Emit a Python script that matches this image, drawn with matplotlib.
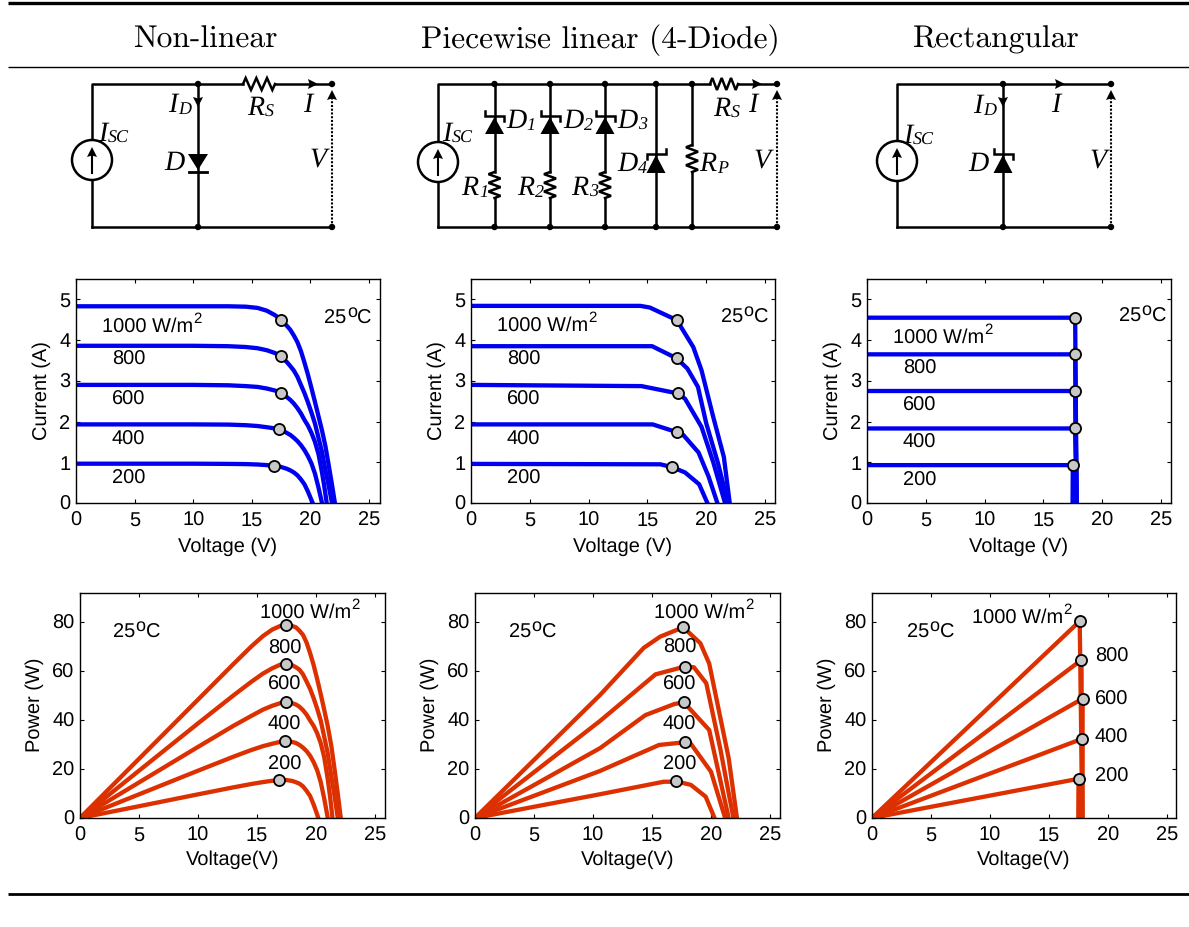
import matplotlib
matplotlib.use('Agg')
import matplotlib.pyplot as plt
from matplotlib.patches import Circle, Polygon

plt.rcParams['font.family'] = ['Liberation Sans', 'DejaVu Sans']
plt.rcParams['text.hinting'] = 'no_hinting'
plt.rcParams['text.hinting_factor'] = 1

W, H = 1189, 927
BLUE = '#0000F0'
RED = '#DC3000'

titles = ['Non-linear', 'Piecewise linear (4-Diode)', 'Rectangular']
xticks = [0, 5, 10, 15, 20, 25]
yticks_i = [0, 1, 2, 3, 4, 5]
yticks_p = [0, 20, 40, 60, 80]

# ---------- Non-linear I-V ---------
knee_a = [0, 5, 10, 13, 14.5, 15.5, 16.3, 17, 17.5, 18, 18.3, 18.6, 18.9, 19.2, 19.5, 19.8, 20.1, 20.4, 20.7, 21]
nl_iv_v = [
    knee_a + [21.3, 21.6, 21.85, 22.1],
    knee_a + [21.3, 21.6, 21.85],
    knee_a + [21.2, 21.4],
    knee_a,
    [0, 5, 10, 13, 14.5, 15.5, 16.3, 16.9, 17.5, 18, 18.3, 18.6, 18.9, 19.2, 19.5, 19.8, 20.0, 20.2],
]
nl_iv_i = [
    [4.83, 4.83, 4.83, 4.83, 4.82, 4.79, 4.72, 4.61, 4.5, 4.35, 4.25, 4.11, 3.95, 3.73, 3.45, 3.15, 2.82, 2.48, 2.13, 1.78, 1.38, 0.88, 0.45, 0],
    [3.86, 3.86, 3.86, 3.85, 3.83, 3.8, 3.75, 3.68, 3.6, 3.46, 3.36, 3.25, 3.1, 2.9, 2.7, 2.47, 2.22, 1.95, 1.6, 1.25, 0.8, 0.38, 0],
    [2.9, 2.9, 2.9, 2.89, 2.87, 2.85, 2.81, 2.76, 2.7, 2.6, 2.53, 2.44, 2.33, 2.2, 2.04, 1.9, 1.72, 1.5, 1.2, 0.75, 0.4, 0],
    [1.93, 1.93, 1.93, 1.925, 1.91, 1.89, 1.86, 1.83, 1.8, 1.72, 1.67, 1.6, 1.52, 1.42, 1.3, 1.15, 0.97, 0.72, 0.38, 0],
    [0.965, 0.965, 0.965, 0.96, 0.955, 0.945, 0.93, 0.91, 0.885, 0.84, 0.8, 0.75, 0.68, 0.58, 0.46, 0.28, 0.14, 0],
]
nl_mpp_v = [17.5, 17.5, 17.5, 17.35, 16.9]
nl_mpp_i = [4.5, 3.6, 2.7, 1.81, 0.91]
# ---------- Non-linear P-V ---------
nl_pv_p = [
    [0, 24.15, 48.3, 62.8, 69.9, 74.2, 76.9, 78.4, 78.75, 78.3, 77.8, 76.4, 74.7, 71.6, 67.3, 62.4, 56.7, 50.6, 44.1, 37.4, 29.4, 19, 9.8, 0],
    [0, 19.3, 38.6, 50.0, 55.5, 58.9, 61.1, 62.6, 63, 62.3, 61.5, 60.5, 58.6, 55.7, 52.7, 48.9, 44.6, 39.8, 33.1, 26.3, 17, 8.2, 0],
    [0, 14.5, 29, 37.6, 41.6, 44.2, 45.8, 46.9, 47.25, 46.8, 46.3, 45.4, 44, 42.2, 39.8, 37.6, 34.6, 30.6, 24.8, 15.8, 8.5, 0],
    [0, 9.65, 19.3, 25, 27.7, 29.3, 30.3, 31.1, 31.3, 31, 30.6, 29.8, 28.7, 27.3, 25.4, 22.8, 19.5, 14.7, 7.9, 0],
    [0, 4.8, 9.65, 12.5, 13.85, 14.65, 15.2, 15.4, 15.5, 15.1, 14.6, 14, 12.9, 11.1, 9, 5.5, 2.8, 0],
]
nl_mpp_p = [78.6, 63, 47.3, 31.4, 15.4]

# ---------- Piecewise I-V ---------
pw_iv_v = [
    [0, 14.4, 15.2, 17.5, 18.9, 19.6, 20.6, 21.5, 22.0],
    [0, 15.4, 17.5, 18.4, 19.3, 20.0, 21.0, 21.85],
    [0, 14.5, 17.6, 18.2, 19.6, 20.6, 21.6],
    [0, 15.45, 17.5, 18.05, 19.35, 20.2, 20.95],
    [0, 16.1, 17.1, 18.2, 19.4, 20.1],
]
pw_iv_i = [
    [4.84, 4.84, 4.8, 4.49, 3.83, 3.26, 2.11, 1.13, 0],
    [3.85, 3.85, 3.55, 3.3, 2.85, 1.96, 0.98, 0],
    [2.9, 2.87, 2.69, 2.56, 1.87, 1.0, 0],
    [1.93, 1.93, 1.74, 1.67, 1.24, 0.65, 0],
    [0.96, 0.95, 0.88, 0.75, 0.46, 0],
]
pw_mpp_v = [17.5, 17.5, 17.6, 17.5, 17.1]
pw_mpp_i = [4.49, 3.55, 2.69, 1.74, 0.88]
# ---------- Piecewise P-V ---------
pw_pv_v = [
    [0, 10.6, 14.3, 15.7, 17.65, 19.1, 19.85, 21.5, 22.2],
    [0, 10.6, 15.3, 17.8, 18.55, 19.6, 20.8, 21.9],
    [0, 10.6, 14.45, 16.9, 17.7, 19.85, 21.5],
    [0, 10.6, 15.6, 17.8, 18.2, 20.0, 21.2],
    [0, 10.6, 16.0, 17.2, 18.3, 19.55, 20.3],
]
pw_pv_p = [
    [0, 50.2, 69.4, 74, 77.8, 71.3, 63, 24.4, 0],
    [0, 39.6, 58.6, 61.8, 61.5, 55, 28, 0],
    [0, 28.5, 42, 46.5, 47.2, 35.9, 0],
    [0, 19.2, 29.8, 30.9, 30.9, 18.9, 0],
    [0, 9.7, 14.8, 14.8, 13.5, 8.7, 0],
]
pw_mpp_pv = [17.65, 17.8, 17.7, 17.8, 17.0]
pw_mpp_p = [78, 61.8, 47.2, 30.9, 14.9]

# ---------- Rectangular ---------
re_v_start = [0, 0, 0, 0, 0]
re_iv_i = [4.55, 3.65, 2.75, 1.83, 0.93]
re_mpp_v = [17.7, 17.7, 17.7, 17.7, 17.5]
re_end_v = [17.82, 17.82, 17.82, 17.82, 17.48]
re_mpp_vp = [17.6, 17.75, 17.85, 17.8, 17.5]
re_mpp_p = [80.3, 64.5, 48.7, 32.3, 16]

fig = plt.figure(figsize=(W / 100, H / 100), dpi=100)
FS = 14.5


def make_axes(l, t, r, b, xmax, ymax, yticks, xlabel, ylabel, xpad, lpad):
    ax = fig.add_axes([l / W, 1 - b / H, (r - l) / W, (b - t) / H])
    ax.set_xlim(0, xmax)
    ax.set_ylim(0, ymax)
    ax.set_xticks(xticks)
    ax.set_yticks(yticks)
    ax.tick_params(direction='in', length=3, width=0.8, top=True, right=True,
                   labelsize=FS, pad=4)
    ax.tick_params(axis='x', pad=xpad)
    for s in ax.spines.values():
        s.set_linewidth(1.0)
    ax.set_xlabel(xlabel, fontsize=FS, labelpad=lpad)
    ax.set_ylabel(ylabel, fontsize=FS, labelpad=6)
    return ax


def mpp(ax, xs, ys):
    ax.plot(xs, ys, ls='none', marker='o', ms=8, mfc='#C8C8C8', mec='black',
            mew=1.3, zorder=5, clip_on=False)


LW = 3.1
# row 1
a1 = make_axes(76, 279, 380, 503, 25.95, 5.5, yticks_i, 'Voltage (V)', 'Current (A)', 6, 5)
for v, i in zip(nl_iv_v, nl_iv_i):
    a1.plot(v, i, color=BLUE, lw=LW, solid_joinstyle='round')
mpp(a1, nl_mpp_v, nl_mpp_i)

a2 = make_axes(471, 279, 775, 503, 25.85, 5.5, yticks_i, 'Voltage (V)', 'Current (A)', 6, 5)
for v, i in zip(pw_iv_v, pw_iv_i):
    a2.plot(v, i, color=BLUE, lw=LW, solid_joinstyle='round')
mpp(a2, pw_mpp_v, pw_mpp_i)

a3 = make_axes(867, 279, 1171, 503, 25.85, 5.5, yticks_i, 'Voltage (V)', 'Current (A)', 6, 5)
for s, i, vm, ve in zip(re_v_start, re_iv_i, re_mpp_v, re_end_v):
    a3.plot([s, vm, ve], [i, i, 0], color=BLUE, lw=LW, solid_joinstyle='miter')
mpp(a3, re_mpp_v, re_iv_i)

# row 2
b1 = make_axes(80, 592.5, 385, 818, 25.85, 92, yticks_p, 'Voltage(V)', 'Power (W)', 6, 4)
for v, p in zip(nl_iv_v, nl_pv_p):
    b1.plot(v, p, color=RED, lw=LW, solid_joinstyle='round')
mpp(b1, nl_mpp_v, nl_mpp_p)

b2 = make_axes(475, 592.5, 780, 818, 25.85, 92, yticks_p, 'Voltage(V)', 'Power (W)', 6, 4)
for v, p in zip(pw_pv_v, pw_pv_p):
    b2.plot(v, p, color=RED, lw=LW, solid_joinstyle='round')
mpp(b2, pw_mpp_pv, pw_mpp_p)

b3 = make_axes(872, 592.5, 1176, 818, 25.76, 92, yticks_p, 'Voltage(V)', 'Power (W)', 6, 4)
for s, p, vm, ve in zip(re_v_start, re_mpp_p, re_mpp_vp, re_end_v):
    b3.plot([s, vm, ve], [s, p, 0], color=RED, lw=LW, solid_joinstyle='miter')
mpp(b3, re_mpp_vp, re_mpp_p)

# overlay in pixel coordinates
ov = fig.add_axes([0, 0, 1, 1], facecolor='none')
ov.set_xlim(0, W)
ov.set_ylim(H, 0)
ov.axis('off')
rend = fig.canvas.get_renderer()

# rules
ov.plot([8, W], [2.5, 2.5], color='black', lw=2.4, solid_capstyle='butt')
ov.plot([8, W], [67.2, 67.2], color='black', lw=1.0, solid_capstyle='butt')
ov.plot([8, W], [894, 894], color='black', lw=2.0, solid_capstyle='butt')

# titles
for cx, t in zip([205, 600, 996], titles):
    ov.text(cx, 40, t, family='cmr10', fontsize=22.7, ha='center', va='center')

WL = 1.8


def wire(xs, ys, lw=WL, **k):
    ov.plot(xs, ys, color='black', lw=lw, solid_capstyle='projecting', **k)


def dot(x, y):
    ov.add_patch(Circle((x, y), 3.2, fc='black', ec='none', zorder=4))


def arrow(x, y, dx, dy, s=9, h=4.5):
    bx, by = x - dx * s, y - dy * s
    ov.add_patch(Polygon([(x, y), (bx + dy * h, by + dx * h), (x - dx * s * .85, y - dy * s * .85),
                          (bx - dy * h, by - dx * h)],
                         fc='black', ec='none', zorder=4))


def res_h(x0, x1, y, amp=6):
    n = 6
    xs = [x0] + [x0 + (x1 - x0) * (k + .5) / n for k in range(n)] + [x1]
    ys = [y] + [y + (amp if k % 2 else -amp) for k in range(n)] + [y]
    ov.plot(xs, ys, color='black', lw=WL, solid_joinstyle='miter')


def res_v(x, y0, y1, amp=6):
    n = 6
    ys = [y0] + [y0 + (y1 - y0) * (k + .5) / n for k in range(n)] + [y1]
    xs = [x] + [x + (amp if k % 2 else -amp) for k in range(n)] + [x]
    ov.plot(xs, ys, color='black', lw=WL, solid_joinstyle='miter')


def source(x, y):
    ov.add_patch(Circle((x, y), 20, fc='white', ec='black', lw=1.8, zorder=3))
    ov.plot([x, x], [y + 13, y - 8], color='black', lw=1.5, zorder=4)
    arrow(x, y - 13, 0, -1, s=10, h=5)
    ov.patches[-1].set_zorder(5)


def diode_down(x, top, bot, hw=10):
    ov.add_patch(Polygon([(x - hw, top), (x + hw, top), (x, bot)], fc='black', ec='none', zorder=4))
    wire([x - hw + 1, x + hw - 1], [bot + 2, bot + 2], lw=2)


def zener_up(x, top, bot, hw=9.5, flip=False):
    ov.add_patch(Polygon([(x - hw, bot), (x + hw, bot), (x, top)], fc='black', ec='none', zorder=4))
    s = -1 if flip else 1
    ov.plot([x - s * hw, x - s * hw, x + s * hw, x + s * hw],
            [top - 6, top - 1, top - 1, top + 4], color='black', lw=1.8, zorder=4,
            solid_joinstyle='miter')


def output(x, top=84, bot=227):
    dot(x, top)
    dot(x, bot)
    ov.plot([x, x], [bot, 98], color='black', lw=1.5, ls=(0, (1, 0.8)))
    arrow(x, 90, 0, -1, s=10, h=5)


def pieces(x, y, parts, center=False):
    """Draw a run of text pieces; parts are (text, size, dy, style, family)."""
    arts = []
    cur = x
    for txt, size, dy, style, fam in parts:
        t = ov.text(cur, y + dy, txt, fontsize=size, style=style, family=fam,
                    ha='left', va='center_baseline', zorder=6)
        bb = t.get_window_extent(rend)
        cur += bb.width + 0.5
        arts.append(t)
    if center:
        shift = (cur - x) / 2
        for t in arts:
            px, py = t.get_position()
            t.set_position((px - shift, py))


SERIF = 'Liberation Serif'


def lab(x, y, main, sub=None):
    parts = [(main, 20, 0, 'italic', SERIF)]
    if sub:
        parts.append((sub, 13, 6, 'italic', SERIF))
    pieces(x, y, parts, center=True)


T, B = 84, 227
# circuit 1
wire([92, 92, 243], [B, T, T])
res_h(243, 275, T)
wire([275, 332], [T, T])
wire([92, 332], [B, B])
wire([198, 198], [T, B])
source(92, 160)
dot(198, T)
dot(198, B)
arrow(198, 107, 0, 1, s=10, h=5)
arrow(318, T, 1, 0, s=10, h=5)
diode_down(198, 154, 170)
output(332)
lab(180, 102, 'I', 'D')
lab(261, 105, 'R', 'S')
lab(308, 102, 'I')
lab(114, 131, 'I', 'SC')
lab(175, 160, 'D')
lab(318, 157, 'V')

# circuit 2
wire([438, 438, 710], [B, T, T])
res_h(710, 738, T)
wire([738, 777], [T, T])
wire([438, 777], [B, B])
source(438, 162)
for x in [494.5, 550, 605]:
    wire([x, x], [T, 172])
    res_v(x, 172, 198)
    wire([x, x], [198, B])
    zener_up(x, 117, 134)
    dot(x, T)
    dot(x, B)
wire([656, 656], [T, B])
zener_up(656, 155, 173, flip=True)
dot(656, T)
dot(656, B)
wire([692, 692], [T, 145])
res_v(692, 145, 172)
wire([692, 692], [172, B])
dot(692, T)
dot(692, B)
arrow(762, T, 1, 0, s=10, h=5)
output(777)
lab(521, 118, 'D', '1')
lab(578, 118, 'D', '2')
lab(632, 118, 'D', '3')
lab(632, 161, 'D', '4')
lab(475, 185, 'R', '1')
lab(531, 185, 'R', '2')
lab(585, 185, 'R', '3')
lab(714, 161, 'R', 'P')
lab(727, 106, 'R', 'S')
lab(753, 102, 'I')
lab(762, 158, 'V')
lab(458, 131, 'I', 'SC')

# circuit 3
wire([897, 897, 1111], [B, T, T])
wire([897, 1111], [B, B])
wire([1003, 1003], [T, B])
source(897, 161)
dot(1003, T)
dot(1003, B)
arrow(1003, 107, 0, 1, s=10, h=5)
arrow(1065, T, 1, 0, s=10, h=5)
zener_up(1003, 155, 173)
output(1111)
lab(985, 103, 'I', 'D')
lab(1056, 102, 'I')
lab(919, 133, 'I', 'SC')
lab(979, 161, 'D')
lab(1098, 158, 'V')

# chart annotations
irr = ['800', '600', '400', '200']
SANS = 'Liberation Sans'


def notes(x1000, xr, ys, tx, ty):
    pieces(x1000, ys[0], [('1000 W/m', FS, 0, 'normal', SANS), ('2', 11, -7, 'normal', SANS)])
    for s, y in zip(irr, ys[1:]):
        ov.text(xr, y, s, fontsize=FS, ha='left', va='center_baseline', zorder=6)
    pieces(tx, ty, [('25', FS, 0, 'normal', SANS), ('o', 13, -7, 'normal', SANS), ('C', FS, 0, 'normal', SANS)])


notes(102, 112, [325, 358, 398, 438, 477], 324, 317)
notes(497, 507, [324, 358, 398, 438, 477], 721, 316)
notes(893, 903, [336, 367, 404, 441, 479], 1119, 315)
notes(260, 268, [611, 647, 683, 723, 763], 113, 631)
notes(654, 663, [611, 646, 683, 723, 763], 509, 631)
notes(972, 1095, [616, 655, 698, 736, 775], 907, 631)

fig.savefig('out.png', dpi=100)
